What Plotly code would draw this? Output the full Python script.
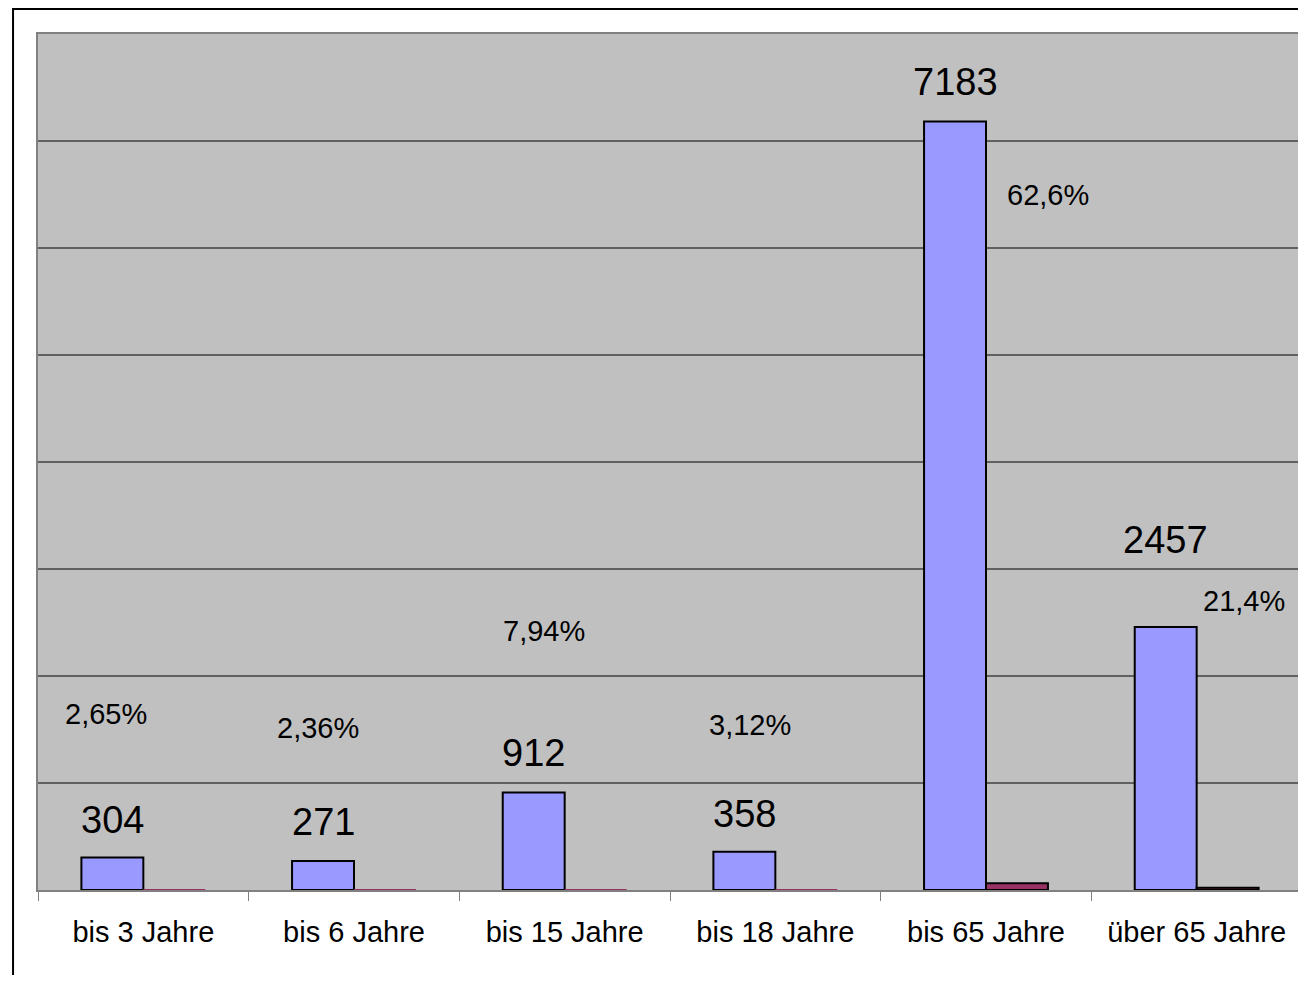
import plotly.graph_objects as go

categories = ["bis 3 Jahre", "bis 6 Jahre", "bis 15 Jahre", "bis 18 Jahre", "bis 65 Jahre", "über 65 Jahre"]
counts = [304, 271, 912, 358, 7183, 2457]
percents = [2.65, 2.36, 7.94, 3.12, 62.6, 21.4]
percent_labels = ["2,65%", "2,36%", "7,94%", "3,12%", "62,6%", "21,4%"]

# label placement (layout only)
count_label_y = [654, 636, 1280, 710, 7547, 3271]
count_label_dx = -0.147
pct_label_y = [1645, 1514, 2421, 1542, 6495, 2701]
pct_label_dx = [-0.175, -0.173, -0.097, -0.121, 0.296, 0.225]

FONT = "Arial, Liberation Sans, sans-serif"

fig = go.Figure()
fig.add_trace(go.Bar(x=categories, y=counts, marker=dict(color="#9999FF", line=dict(color="black", width=2)),
                     showlegend=False, hoverinfo="x+y"))
# outlines of sub-pixel bars are not visible in the original
pct_outline = [2 if v > 10 else 0 for v in percents]
fig.add_trace(go.Bar(x=categories, y=percents, marker=dict(color="#993366", line=dict(color="black", width=pct_outline)),
                     showlegend=False, hoverinfo="x+y"))

annotations = []
for i, (c, yy) in enumerate(zip(counts, count_label_y)):
    annotations.append(dict(x=i + count_label_dx, y=yy, xref="x", yref="y", text=str(c), showarrow=False,
                            font=dict(family=FONT, size=38, color="black"), xanchor="center", yanchor="middle"))
for i, (t, yy) in enumerate(zip(percent_labels, pct_label_y)):
    annotations.append(dict(x=i + pct_label_dx[i], y=yy, xref="x", yref="y", text=t, showarrow=False,
                            font=dict(family=FONT, size=29, color="black"), xanchor="center", yanchor="middle"))

# page body has an 8px margin; keep page height inside the window (no scrollbar)
W, H = 1298, 967
L, R, T, B = 30, 2, 26, 85
pw, ph = W - L - R, H - T - B

fig.update_layout(
    width=W, height=H,
    margin=dict(l=L, r=R, t=T, b=B, pad=0),
    paper_bgcolor="white", plot_bgcolor="#C0C0C0",
    barmode="group", bargap=0.412, bargroupgap=0,
    font=dict(family=FONT, color="black"),
    annotations=annotations,
    shapes=[dict(type="rect", xref="paper", yref="paper",
                 x0=(5 - L) / pw, x1=(W + 10 - L) / pw,
                 y0=-(B + 10) / ph, y1=(ph + T - 1) / ph,
                 line=dict(color="black", width=2), fillcolor="rgba(0,0,0,0)", layer="below")],
)
fig.update_xaxes(type="category", showgrid=False, showline=True, linecolor="#808080", linewidth=2, mirror=True,
                 ticks="outside", tickson="boundaries", ticklen=9, tickcolor="#808080", tickwidth=1,
                 tickfont=dict(family=FONT, size=29, color="black"), ticklabelstandoff=15)
fig.update_yaxes(range=[0, 8000], dtick=1000, showgrid=True, gridcolor="#606060", gridwidth=1.5,
                 showticklabels=False, ticks="", showline=True, linecolor="#808080", linewidth=2, mirror=True,
                 zeroline=False)

fig.write_html("out.html")
